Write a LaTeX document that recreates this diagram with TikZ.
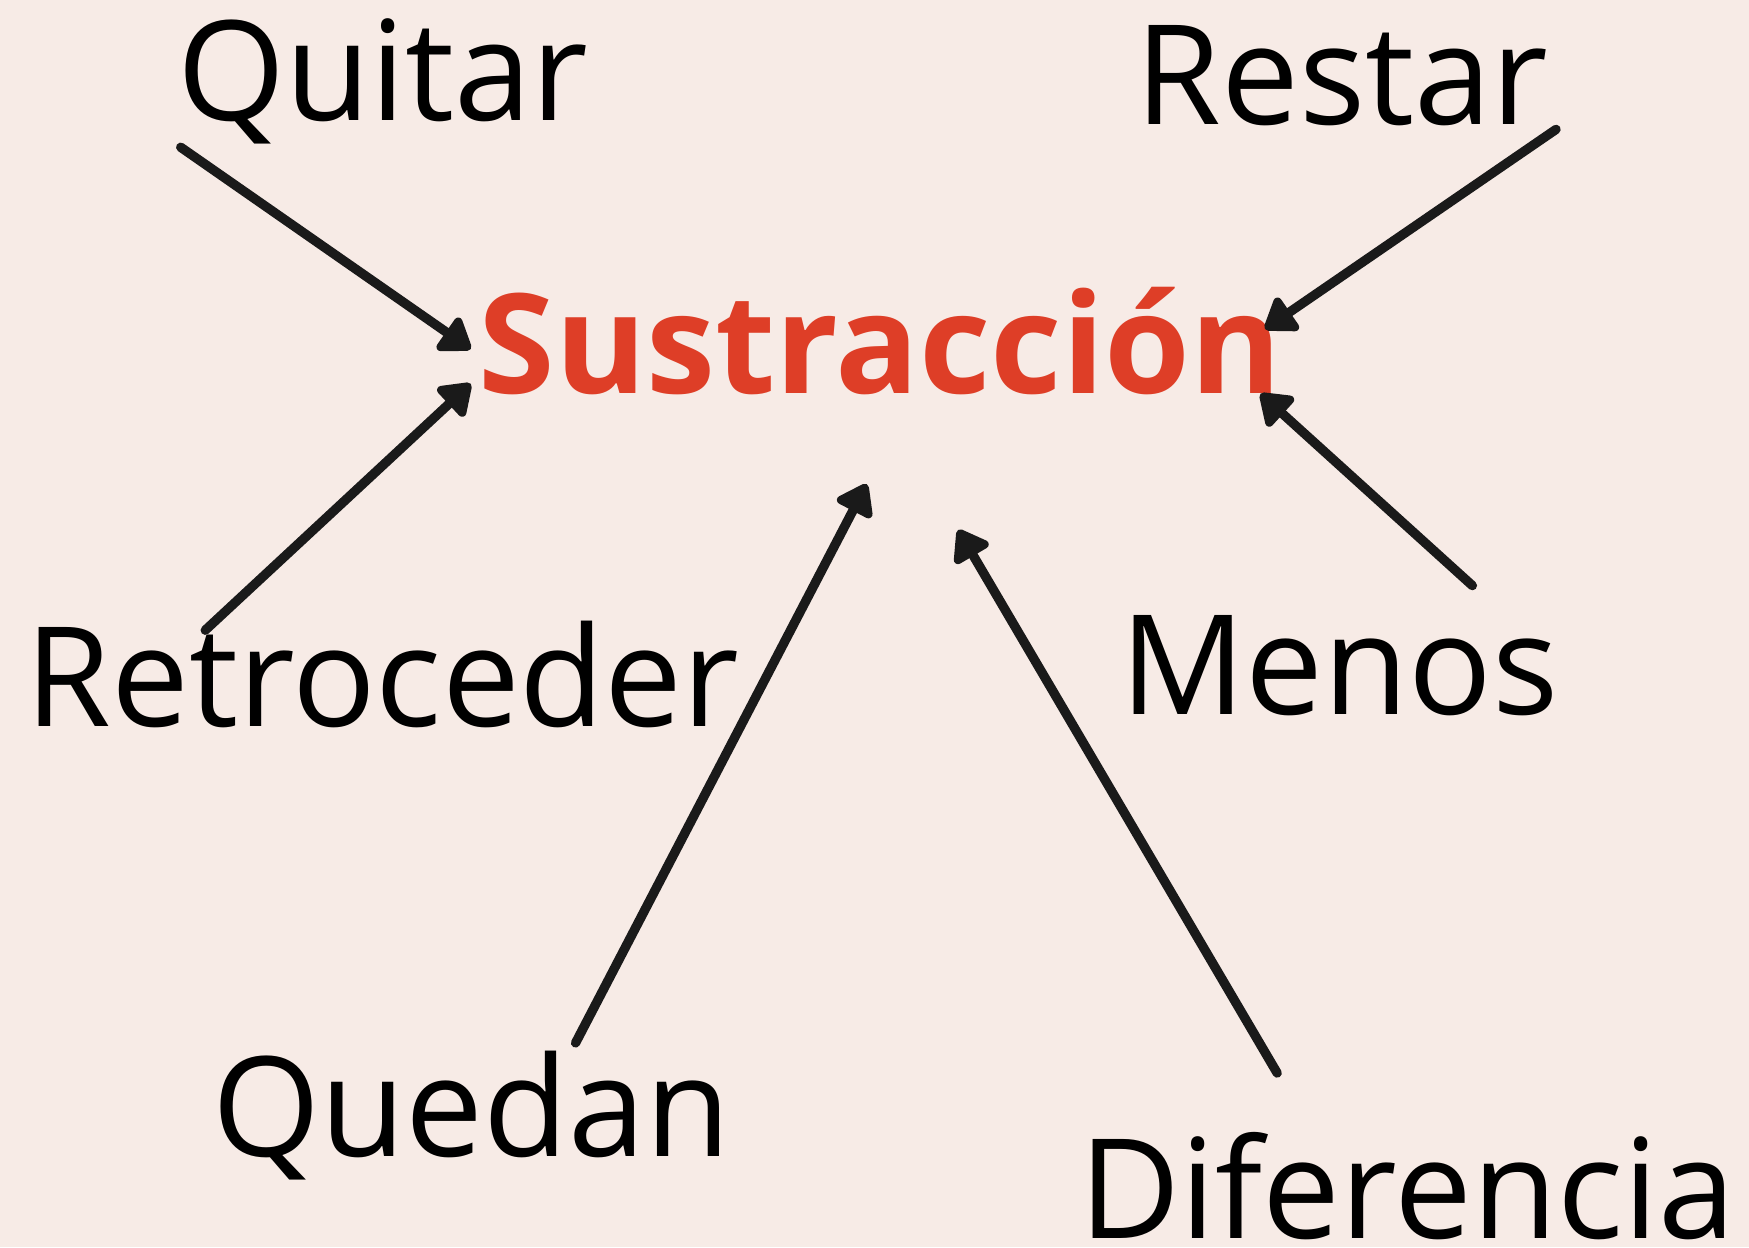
\documentclass[tikz,border=0pt]{standalone}
\usepackage{fontspec}
\setmainfont{Open Sans}
\usetikzlibrary{arrows.meta}
\definecolor{bgc}{HTML}{F7EBE6}
\definecolor{redc}{HTML}{DE3E27}
\definecolor{linec}{HTML}{1A1A1A}
\tikzset{
  word/.style={anchor=base, inner sep=0pt, font=\fontsize{62.2}{70}\selectfont, text=black},
  title/.style={anchor=base, inner sep=0pt, font=\fontsize{62.2}{70}\selectfont\bfseries, text=redc},
  link/.style={draw=linec, line width=4.2pt, line cap=round, -{Triangle[length=15pt,width=20pt,round]}}
}
\begin{document}
\begin{tikzpicture}[x=0.5pt,y=-0.5pt]
\fill[bgc] (0,0) rectangle (1568,1118);
\useasboundingbox (0,0) rectangle (1568,1118);
\node[title] (sus) at (789,353) {Sustracción};
\node[word] (quitar) at (343,108) {Quitar};
\node[word] (restar) at (1203,112) {Restar};
\node[word] (retro) at (343,651) {Retroceder};
\node[word] (menos) at (1201,641) {Menos};
\node[word] (quedan) at (423,1037) {Quedan};
\node[word] (dif) at (1262,1110) {Diferencia};
% free ends
\coordinate (q1) at (162,132);
\coordinate (q2) at (422,313);
\coordinate (r1) at (184,565);
\coordinate (r2) at (422,344);
\coordinate (s1) at (1395,116);
\coordinate (s2) at (1134,295);
\coordinate (m1) at (1320,525);
\coordinate (m2) at (1130,353);
\coordinate (u1) at (516,935);
\coordinate (u2) at (777,434);
\coordinate (d1) at (1145,962);
\coordinate (d2) at (859,475);
\draw[link] (q1) -- (q2);
\draw[link] (r1) -- (r2);
\draw[link] (s1) -- (s2);
\draw[link] (m1) -- (m2);
\draw[link] (u1) -- (u2);
\draw[link] (d1) -- (d2);
\end{tikzpicture}
\end{document}
